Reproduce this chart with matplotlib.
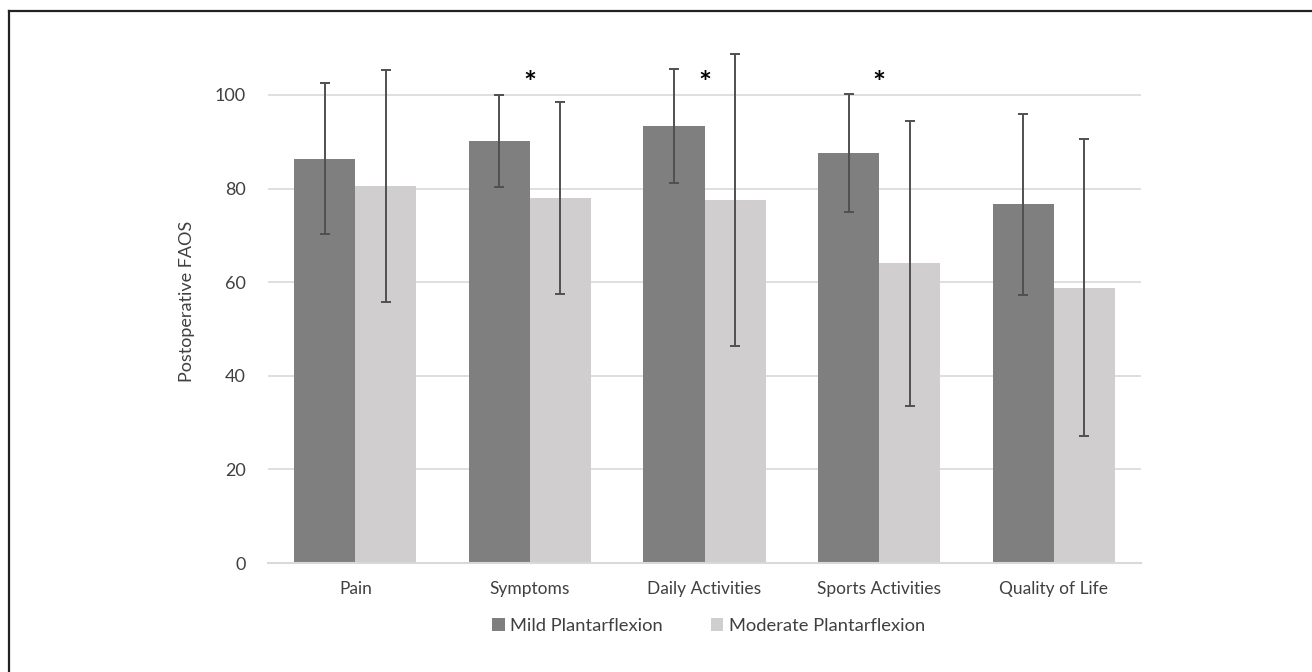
import matplotlib
matplotlib.use("Agg")
import matplotlib.pyplot as plt
import numpy as np
from matplotlib.lines import Line2D
from matplotlib.patches import Patch

categories = ["Pain", "Symptoms", "Daily Activities", "Sports Activities", "Quality of Life"]
mild_mean = [86.4, 90.1, 93.4, 87.5, 76.6]
mild_sd = [16.2, 9.8, 12.2, 12.6, 19.3]
moderate_mean = [80.6, 78.0, 77.6, 64.0, 58.8]
moderate_sd = [24.8, 20.5, 31.2, 30.4, 31.7]
significant = [False, True, True, True, False]
series_names = ["Mild Plantarflexion", "Moderate Plantarflexion"]
yticks = [0, 20, 40, 60, 80, 100]

plt.rcParams['font.family'] = ['Lato', 'DejaVu Sans']

fig = plt.figure(figsize=(13.12, 6.72), dpi=100)
ax = fig.add_axes([0.2043, 0.1622, 0.6654, 0.7801])

x = np.arange(len(categories))
w = 0.35
c_mild = "#7f7f7f"
c_mod = "#d0cece"
c_err = "#505050"

ax.bar(x - w/2, mild_mean, w, color=c_mild, zorder=2)
ax.bar(x + w/2, moderate_mean, w, color=c_mod, zorder=2)
ax.errorbar(x - w/2, mild_mean, yerr=mild_sd, fmt='none', ecolor=c_err,
            elinewidth=1.4, capsize=3.5, capthick=1.4, zorder=3, clip_on=False)
ax.errorbar(x + w/2, moderate_mean, yerr=moderate_sd, fmt='none', ecolor=c_err,
            elinewidth=1.4, capsize=3.5, capthick=1.4, zorder=3, clip_on=False)

for i, s in enumerate(significant):
    if s:
        ax.text(x[i], 102.3, "*", ha='center', va='center', fontsize=22,
                fontweight='bold', color='black')

ax.set_xlim(-0.5, len(categories) - 0.5)
ax.set_ylim(0, 112)
ax.set_yticks(yticks)
ax.set_yticklabels([str(t) for t in yticks], fontsize=13, color='#404040')
ax.set_xticks(x)
ax.set_xticklabels(categories, fontsize=12.5, color='#404040')
ax.tick_params(axis='y', length=0, pad=16)
ax.tick_params(axis='x', length=0, pad=13)
ax.grid(axis='y', color='#d9d9d9', linewidth=1.2, zorder=0)
ax.set_axisbelow(True)
for sp in ['top', 'right', 'left']:
    ax.spines[sp].set_visible(False)
ax.spines['bottom'].set_color('#d9d9d9')
ax.spines['bottom'].set_linewidth(1.5)
ax.set_ylabel("Postoperative FAOS", fontsize=13, color='#404040', labelpad=14)

handles = [Patch(facecolor=c_mild, edgecolor='none'), Patch(facecolor=c_mod, edgecolor='none')]
fig.legend(handles, series_names, loc='center', bbox_to_anchor=(0.54, 0.068),
           ncol=2, frameon=False, fontsize=13.2, handlelength=0.7, handleheight=0.7,
           handletextpad=0.3, columnspacing=2.6, labelcolor='#404040')

# figure frame (top and left)
fig.add_artist(Line2D([9/1312, 1.0], [1 - 11/672, 1 - 11/672], transform=fig.transFigure,
                      color='#222222', linewidth=1.6))
fig.add_artist(Line2D([9/1312, 9/1312], [1 - 11/672, 0.0], transform=fig.transFigure,
                      color='#222222', linewidth=1.6))

fig.savefig("out.png", dpi=100)
